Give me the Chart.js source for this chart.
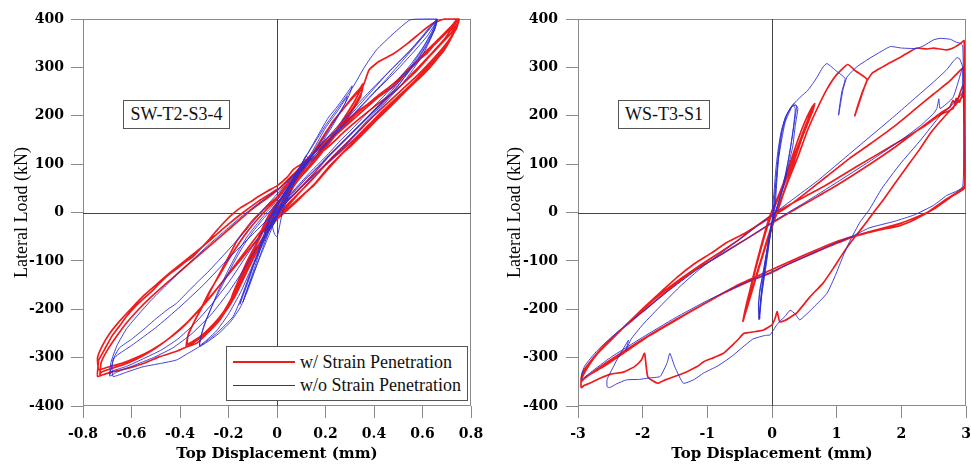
<!DOCTYPE html>
<html>
<head>
<meta charset="utf-8">
<script src="https://cdn.jsdelivr.net/npm/chart.js@4.4.1/dist/chart.umd.min.js"></script>
<style>
  html, body { margin: 0; padding: 0; background: #fff; }
  #wrap { position: relative; width: 971px; height: 468px; overflow: hidden;
          font-family: "Liberation Serif", "Times New Roman", serif; }
  canvas { position: absolute; top: 0; }
  .tag { position: absolute; box-sizing: border-box; border: 1px solid #555; background: #fff;
         font-size: 18px; line-height: 26px; text-align: center; color: #111; z-index: 2; }
  .legend { position: absolute; box-sizing: border-box; border: 1px solid #555; background: #fff; z-index: 2; }
  .legend .row { position: absolute; left: 0; height: 22px; width: 100%; }
  .legend .swatch { position: absolute; left: 6px; width: 62px; top: 50%; }
  .legend .txt { position: absolute; left: 73px; top: 0; font-size: 18px; line-height: 22px; color: #111; white-space: nowrap; }
</style>
</head>
<body>
<div id="wrap">
  <canvas id="left" width="490" height="468" style="left:0px"></canvas>
  <canvas id="right" width="481" height="468" style="left:490px"></canvas>
  <div class="tag" style="left:123px;top:100px;width:107px;height:29px;">SW-T2-S3-4</div>
  <div class="tag" style="left:618px;top:100px;width:92px;height:29px;">WS-T3-S1</div>
  <div class="legend" style="left:226px;top:346px;width:242px;height:55px;">
    <div class="row" style="top:4px;"><div class="swatch" style="border-top:2px solid #ee1c1c;margin-top:-1px;"></div><div class="txt">w/ Strain Penetration</div></div>
    <div class="row" style="top:27px;"><div class="swatch" style="border-top:1px solid #2b2bd6;"></div><div class="txt">w/o Strain Penetration</div></div>
  </div>
</div>
<script>
// Axis ticks
const swXTicks = [-0.8, -0.6, -0.4, -0.2, 0, 0.2, 0.4, 0.6, 0.8];
const wsXTicks = [-3, -2, -1, 0, 1, 2, 3];
const loadTicks = [-400, -300, -200, -100, 0, 100, 200, 300, 400];

// SW-T2-S3-4, with strain penetration: [displacement mm, load kN]
const swWithSP = [
  [0,0],[0.03,22],[0.06,50],[0.1,82],[0.13,104],[0.14,112],[0.11,92],[0.07,62],[0.03,35],[0,14],[-0.02,-6],[-0.04,-28],[-0.05,-42],[-0.03,-30],[0,-8],[0.03,18],[0.07,55],[0.11,88],[0.14,110],[0.12,98],[0.08,70],[0.04,42],[0,18],[-0.03,-10],[-0.05,-38],[-0.02,-22],
  [0.02,10],[0.06,50],[0.1,90],[0.14,118],[0.19,155],[0.23,188],[0.27,212],[0.31,238],[0.34,255],[0.355,266],[0.35,250],[0.32,222],[0.28,192],[0.24,165],[0.2,138],[0.16,112],[0.12,88],[0.08,62],[0.04,40],[0,20],[-0.03,-2],[-0.06,-32],[-0.09,-70],[-0.12,-108],[-0.15,-145],[-0.17,-168],[-0.195,-190],[-0.185,-172],[-0.16,-142],[-0.13,-108],[-0.1,-78],[-0.07,-50],[-0.04,-24],[-0.01,0],[0.03,28],
  [0.08,62],[0.13,95],[0.18,128],[0.23,160],[0.28,198],[0.32,230],[0.35,258],[0.345,240],[0.31,210],[0.26,172],[0.21,140],[0.16,108],[0.11,80],[0.06,52],[0.02,28],[-0.02,2],[-0.05,-28],[-0.08,-62],[-0.11,-100],[-0.14,-138],[-0.17,-170],[-0.19,-186],[-0.18,-168],[-0.15,-135],[-0.12,-100],[-0.08,-62],[-0.05,-32],[-0.02,-6],[0.02,22],
  [0.06,55],[0.1,90],[0.15,125],[0.2,165],[0.25,200],[0.3,230],[0.355,262],[0.38,295],[0.42,312],[0.48,328],[0.54,350],[0.6,375],[0.64,390],[0.69,400],[0.75,400],[0.745,388],[0.72,362],[0.69,336],[0.65,312],[0.6,285],[0.55,260],[0.5,235],[0.45,210],[0.41,191],[0.36,165],[0.31,140],[0.27,122],[0.22,95],[0.18,72],[0.15,55],[0.11,38],[0.07,20],[0.03,2],[0,-12],[-0.03,-32],[-0.06,-58],[-0.1,-96],[-0.13,-128],[-0.16,-158],[-0.19,-188],[-0.22,-210],[-0.26,-232],[-0.3,-252],[-0.34,-268],[-0.374,-277],[-0.367,-255],[-0.35,-235],[-0.33,-215],[-0.3,-188],[-0.27,-158],[-0.236,-126],[-0.2,-92],[-0.167,-60],[-0.13,-35],[-0.1,-16],[-0.06,4],[-0.03,18],[0,32],[0.04,58],[0.08,85],
  [0.12,108],[0.16,130],[0.2,150],[0.27,182],[0.34,212],[0.41,236],[0.48,260],[0.55,298],[0.62,336],[0.68,365],[0.73,391],[0.75,400],[0.74,380],[0.7,350],[0.66,322],[0.61,295],[0.56,268],[0.5,240],[0.44,212],[0.38,182],[0.32,152],[0.26,125],[0.2,98],[0.15,72],[0.1,45],[0.06,22],[0.02,0],[-0.02,-25],[-0.06,-55],[-0.1,-90],[-0.14,-130],[-0.18,-170],[-0.22,-205],[-0.27,-235],[-0.32,-258],[-0.37,-272],[-0.365,-250],[-0.34,-225],[-0.31,-195],[-0.28,-165],[-0.24,-132],[-0.2,-98],[-0.16,-66],[-0.12,-38],[-0.08,-14],[-0.04,8],[0,28],[0.05,60],[0.1,90],
  [0.15,112],[0.21,135],[0.28,168],[0.35,198],[0.42,226],[0.49,252],[0.56,288],[0.63,325],[0.69,358],[0.74,395],
  [0.75,398],[0.7,345],[0.64,305],[0.58,274],[0.52,248],[0.46,220],[0.4,188],[0.34,158],[0.28,128],[0.22,98],[0.16,62],[0.12,42],[0.08,22],[0.04,4],[0,-14],[-0.04,-42],[-0.08,-78],[-0.12,-118],[-0.16,-160],[-0.19,-186],[-0.236,-222],[-0.28,-246],[-0.33,-270],[-0.374,-278],[-0.42,-288],[-0.484,-298],[-0.54,-310],[-0.594,-319],[-0.64,-325],[-0.676,-329],[-0.71,-334],[-0.74,-339],[-0.738,-318],[-0.735,-305],[-0.71,-282],[-0.68,-255],[-0.65,-235],[-0.621,-215],[-0.58,-192],[-0.55,-178],[-0.51,-160],[-0.484,-146],[-0.44,-126],[-0.41,-115],[-0.38,-103],[-0.346,-91],[-0.31,-72],[-0.28,-56],[-0.25,-38],[-0.208,-15],[-0.18,-2],[-0.15,10],[-0.11,22],[-0.08,32],[-0.04,44],[0,55],[0.04,72],[0.07,90],[0.1,100],
  [0.14,118],[0.2,140],[0.26,168],[0.32,195],[0.38,222],[0.44,248],[0.5,275],[0.56,305],[0.62,330],[0.67,360],[0.72,385],[0.75,400],[0.745,390],[0.72,364],[0.68,338],[0.63,310],[0.58,284],[0.52,256],[0.46,228],[0.4,200],[0.34,170],[0.28,140],[0.22,110],[0.17,82],[0.12,55],[0.07,30],[0.02,5],[-0.03,-22],[-0.08,-55],[-0.14,-92],[-0.2,-128],[-0.26,-165],[-0.32,-200],[-0.38,-232],[-0.44,-258],[-0.5,-280],[-0.56,-298],[-0.62,-312],[-0.68,-322],[-0.725,-330],[-0.73,-335],[-0.725,-310],[-0.7,-285],[-0.66,-255],[-0.62,-228],[-0.57,-200],[-0.52,-175],[-0.46,-148],[-0.4,-122],[-0.34,-96],[-0.28,-70],[-0.22,-44],[-0.16,-18],[-0.1,8],[-0.04,30],[0,45],[0.05,70],[0.1,95],
  [0.15,122],[0.2,145],[0.26,172],[0.33,205],[0.4,235],[0.47,262],[0.54,292],[0.6,322],[0.66,352],[0.71,378],[0.74,398],[0.72,372],[0.67,345],[0.62,318],[0.57,290],[0.51,262],[0.45,235],[0.39,205],[0.33,175],[0.27,145],[0.21,115],[0.16,85],[0.11,58],[0.06,32],[0.01,8],[-0.05,-28],[-0.1,-60],[-0.16,-100],[-0.22,-140],[-0.28,-178],[-0.34,-212],[-0.4,-242],[-0.46,-266],[-0.52,-285],[-0.58,-300],[-0.64,-312],[-0.7,-320],[-0.735,-325],[-0.74,-300],[-0.72,-275],[-0.69,-250],[-0.65,-225],[-0.6,-198],[-0.55,-172],[-0.5,-150],[-0.44,-124],[-0.38,-100],[-0.32,-76],[-0.26,-50],[-0.2,-24],[-0.14,0],[-0.08,22],[-0.03,38],[0,48]
];

// SW-T2-S3-4, without strain penetration
const swWithoutSP = [
  [0,0],[0.02,20],[0.05,50],[0.08,75],[0.11,95],[0.13,108],[0.12,118],[0.1,98],[0.07,72],[0.04,48],[0.01,22],[-0.01,0],[-0.02,-25],[-0.01,-45],[0,-50],[0.01,-30],[0.02,-5],[0.04,25],[0.07,60],[0.1,88],[0.13,112],[0.15,120],[0.12,100],[0.08,78],[0.05,55],[0.02,32],[0,10],[-0.02,-15],[-0.03,-35],[-0.01,-20],[0.01,5],[0.03,35],[0.06,65],[0.09,90],[0.12,110],[0.1,92],[0.06,62],[0.03,40],[0,18],[-0.02,-5],
  [0.02,20],[0.05,50],[0.09,90],[0.13,125],[0.17,160],[0.21,195],[0.25,220],[0.29,248],[0.31,262],[0.3,245],[0.27,215],[0.23,180],[0.19,148],[0.15,118],[0.11,92],[0.07,65],[0.03,40],[0,18],[-0.03,-10],[-0.06,-55],[-0.09,-100],[-0.12,-145],[-0.14,-172],[-0.153,-190],[-0.145,-175],[-0.125,-145],[-0.1,-112],[-0.07,-78],[-0.04,-45],[-0.01,-15],[0.02,12],
  [0.06,50],[0.1,88],[0.15,130],[0.2,175],[0.25,210],[0.29,240],[0.28,225],[0.24,192],[0.2,160],[0.16,130],[0.12,100],[0.08,72],[0.04,45],[0,15],[-0.03,-18],[-0.06,-62],[-0.09,-110],[-0.12,-155],[-0.14,-185],[-0.13,-168],[-0.1,-130],[-0.07,-92],[-0.04,-55],[-0.01,-20],[0.02,10],
  [0.06,60],[0.1,100],[0.15,140],[0.2,180],[0.25,215],[0.314,260],[0.36,300],[0.41,336],[0.48,370],[0.548,398],[0.6,400],[0.66,400],[0.655,385],[0.63,355],[0.6,325],[0.56,295],[0.52,268],[0.47,240],[0.42,212],[0.37,185],[0.32,158],[0.27,132],[0.22,108],[0.17,85],[0.12,62],[0.07,38],[0.03,15],[0,-5],[-0.03,-35],[-0.06,-75],[-0.09,-118],[-0.12,-160],[-0.15,-195],[-0.19,-225],[-0.24,-250],[-0.28,-265],[-0.319,-277],[-0.315,-258],[-0.3,-232],[-0.27,-195],[-0.24,-160],[-0.2,-118],[-0.16,-80],[-0.12,-48],[-0.08,-22],[-0.04,2],[0,25],[0.04,50],[0.08,78],
  [0.13,110],[0.2,150],[0.27,190],[0.34,228],[0.41,265],[0.48,300],[0.548,335],[0.6,365],[0.64,390],[0.66,400],[0.65,380],[0.62,350],[0.58,318],[0.54,290],[0.5,262],[0.45,232],[0.4,205],[0.35,178],[0.3,150],[0.25,125],[0.2,100],[0.15,76],[0.1,52],[0.05,28],[0.01,5],[-0.03,-28],[-0.07,-72],[-0.11,-120],[-0.15,-165],[-0.2,-210],[-0.25,-245],[-0.3,-268],[-0.32,-275],[-0.31,-250],[-0.29,-220],[-0.26,-185],[-0.22,-145],[-0.18,-105],[-0.14,-70],[-0.1,-40],[-0.06,-15],[-0.02,8],[0.02,30],[0.06,55],
  [0.1,85],[0.15,110],[0.22,150],[0.3,195],[0.38,238],[0.45,275],[0.52,315],[0.58,350],[0.62,375],[0.658,398],[0.65,378],[0.62,348],[0.58,315],[0.53,282],[0.48,252],[0.42,220],[0.36,190],[0.3,160],[0.24,130],[0.18,100],[0.12,70],[0.07,42],[0.02,12],[-0.02,-20],[-0.06,-65],[-0.1,-112],[-0.13,-155],[-0.181,-215],[-0.25,-250],[-0.319,-277],[-0.37,-292],[-0.415,-305],[-0.48,-312],[-0.553,-319],[-0.62,-330],[-0.676,-339],[-0.68,-320],[-0.677,-305],[-0.65,-280],[-0.6,-262],[-0.553,-243],[-0.5,-220],[-0.45,-200],[-0.415,-188],[-0.36,-160],[-0.32,-140],[-0.277,-119],[-0.22,-88],[-0.16,-55],[-0.1,-20],[-0.05,10],[0,38],[0.05,68],[0.1,95],
  [0.15,115],[0.22,155],[0.3,200],[0.38,245],[0.46,290],[0.54,330],[0.6,362],[0.65,392],[0.66,400],[0.64,375],[0.6,340],[0.55,305],[0.5,275],[0.44,240],[0.38,210],[0.32,178],[0.26,148],[0.2,115],[0.14,85],[0.08,52],[0.03,22],[-0.02,-12],[-0.08,-55],[-0.14,-100],[-0.2,-145],[-0.27,-190],[-0.34,-230],[-0.41,-262],[-0.48,-285],[-0.55,-302],[-0.62,-318],[-0.68,-328],[-0.69,-335],[-0.685,-310],[-0.66,-275],[-0.62,-240],[-0.57,-210],[-0.52,-182],[-0.46,-152],[-0.4,-122],[-0.34,-94],[-0.28,-66],[-0.22,-40],[-0.16,-14],[-0.1,10],[-0.04,32],[0,46],[0.05,68],
  [0.1,90],[0.17,125],[0.25,168],[0.33,210],[0.41,252],[0.49,292],[0.56,330],[0.62,365],[0.655,392],[0.64,372],[0.6,338],[0.55,300],[0.49,262],[0.43,228],[0.37,195],[0.31,165],[0.25,135],[0.19,105],[0.13,75],[0.07,45],[0.02,15],[-0.03,-25],[-0.08,-70],[-0.14,-120],[-0.2,-165],[-0.27,-210],[-0.35,-250],[-0.43,-280],[-0.51,-300],[-0.59,-316],[-0.66,-330],[-0.69,-338],[-0.67,-300],[-0.6,-275],[-0.5,-238],[-0.4,-195],[-0.3,-148],[-0.2,-95],[-0.1,-45],[0,5]
];

// WS-T3-S1, with strain penetration
const wsWithSP = [
  [0,0],[0.1,30],[0.2,70],[0.3,110],[0.4,150],[0.5,185],[0.58,208],[0.64,222],[0.62,212],[0.52,180],[0.38,130],[0.22,75],[0.08,25],[-0.05,-15],[-0.15,-60],[-0.25,-110],[-0.34,-160],[-0.4,-195],[-0.44,-222],[-0.42,-210],[-0.32,-165],[-0.2,-110],[-0.05,-50],[0.08,0],[0.2,48],[0.32,98],[0.44,145],[0.54,185],[0.62,215],[0.66,225],[0.63,210],[0.53,178],[0.4,135],[0.25,85],[0.1,35],[-0.04,-10],[-0.14,-55],[-0.24,-105],[-0.33,-155],[-0.4,-192],[-0.45,-225],[-0.43,-215],[-0.34,-175],[-0.22,-120],[-0.08,-58],[0.05,-5],[0.17,38],[0.3,88],[0.42,138],[0.52,178],[0.6,208],[0.64,220],[0.6,200],[0.48,160],[0.34,112],[0.2,62],[0.06,18],[-0.06,-25],[-0.16,-70],[-0.26,-120],[-0.35,-170],[-0.42,-210],[-0.44,-220],[-0.38,-195],[-0.27,-145],[-0.14,-88],[0,-28],[0.12,18],
  [0.25,65],[0.4,115],[0.55,170],[0.7,215],[0.85,255],[1.0,285],[1.17,306],[1.3,292],[1.47,275],[1.4,250],[1.33,222],[1.28,200],[1.3,208],[1.38,240],[1.46,270],[1.55,288],[1.7,300],[1.83,310],[2.0,322],[2.15,334],[2.24,340],[2.4,338],[2.5,340],[2.6,338],[2.7,336],[2.8,340],[2.9,348],[2.97,355],[2.975,300],[2.975,245],
  [2.9,232],[2.76,212],[2.6,188],[2.45,164],[2.28,130],[2.09,95],[1.9,60],[1.72,26],[1.56,-2],[1.41,-29],[1.25,-56],[1.1,-84],[0.95,-115],[0.79,-146],[0.69,-160],[0.59,-174],[0.48,-192],[0.38,-208],[0.3,-215],[0.22,-222],[0.12,-226],[0.08,-205],[0.05,-218],[0,-232],[-0.13,-243],[-0.25,-246],[-0.35,-248],[-0.44,-250],[-0.52,-262],[-0.62,-275],[-0.75,-291],[-0.9,-300],[-1.05,-308],[-1.15,-318],[-1.27,-326],[-1.4,-334],[-1.53,-340],[-1.65,-346],[-1.77,-353],[-1.92,-340],[-1.97,-291],[-2.02,-305],[-2.12,-318],[-2.3,-330],[-2.49,-334],[-2.65,-342],[-2.8,-352],[-2.9,-357],[-2.95,-362],
  [-2.95,-346],[-2.85,-320],[-2.7,-292],[-2.49,-264],[-2.2,-225],[-1.97,-195],[-1.7,-162],[-1.46,-133],[-1.2,-106],[-0.94,-84],[-0.7,-62],[-0.42,-43],[-0.2,-25],[0,-8],[0.2,8],[0.5,38],[0.85,75],[1.2,112],[1.5,140],[1.88,177],[2.2,212],[2.5,245],[2.75,272],[2.91,294],[2.975,300],[2.975,200],[2.975,100],[2.975,50],
  [2.8,35],[2.5,7],[2.2,-15],[1.98,-27],[1.6,-38],[1.26,-50],[0.85,-72],[0.43,-96],[0.2,-110],[0,-124],[-0.4,-145],[-0.75,-167],[-1.1,-193],[-1.48,-222],[-1.9,-255],[-2.3,-291],[-2.6,-318],[-2.87,-339],[-2.95,-350],
  [-2.93,-335],[-2.82,-310],[-2.6,-278],[-2.3,-238],[-2.0,-200],[-1.7,-166],[-1.4,-136],[-1.1,-108],[-0.8,-82],[-0.5,-55],[-0.24,-28],[0,-5],[0.3,18],[0.79,53],[1.31,95],[1.83,136],[2.34,177],[2.6,202],[2.8,215],[2.85,236],[2.9,228],[2.96,250],[2.975,200],[2.975,55],
  [2.7,28],[2.4,0],[2.0,-22],[1.5,-40],[1.0,-60],[0.5,-88],[0,-118],[-0.5,-148],[-1.0,-185],[-1.5,-222],[-2.0,-262],[-2.5,-305],[-2.8,-333],[-2.95,-348],
  [-2.93,-330],[-2.7,-290],[-2.4,-250],[-2.0,-205],[-1.6,-160],[-1.2,-120],[-0.8,-88],[-0.4,-55],[0,-22],[0.4,10],[0.9,48],[1.4,90],[1.9,135],[2.3,175],[2.6,205],[2.75,218],[2.8,232],[2.84,222],[2.95,262],[2.975,240]
];

// WS-T3-S1, without strain penetration
const wsWithoutSP = [
  [0,0],[0.03,40],[0.06,90],[0.1,135],[0.15,172],[0.22,200],[0.3,218],[0.37,222],[0.4,215],[0.36,180],[0.32,136],[0.25,95],[0.18,53],[0.1,20],[0.04,-5],[-0.02,-40],[-0.08,-90],[-0.14,-140],[-0.18,-185],[-0.2,-222],[-0.21,-200],[-0.19,-160],[-0.13,-120],[-0.08,-80],[-0.03,-40],[0.02,0],[0.05,50],[0.09,110],[0.13,155],[0.2,195],[0.28,215],[0.34,225],[0.38,220],[0.35,190],[0.3,145],[0.24,100],[0.16,50],[0.08,12],[0.02,-15],[-0.04,-55],[-0.1,-110],[-0.15,-160],[-0.18,-200],[-0.19,-220],[-0.21,-190],[-0.17,-150],[-0.12,-110],[-0.06,-65],[0,-20],[0.04,20],[0.07,70],[0.11,125],[0.16,170],[0.24,205],[0.32,222],[0.36,215],[0.33,175],[0.27,120],[0.2,70],[0.12,28],[0.05,0],[-0.02,-30],[-0.09,-90],[-0.15,-150],[-0.19,-205],[-0.2,-218],[-0.16,-170],[-0.1,-118],[-0.05,-70],[0,-25],[0.05,15],
  [0.1,110],[0.2,185],[0.32,222],[0.45,240],[0.55,252],[0.67,274],[0.79,301],[0.85,308],[1.0,292],[1.13,277],[1.08,250],[1.04,215],[1.03,201],[1.06,225],[1.1,255],[1.16,280],[1.31,301],[1.5,318],[1.65,330],[1.83,343],[2.0,340],[2.24,339],[2.35,345],[2.5,357],[2.6,360],[2.76,358],[2.85,352],[2.91,350],[2.95,345],[2.95,250],
  [2.8,225],[2.6,200],[2.3,150],[1.98,100],[1.7,50],[1.5,5],[1.36,-20],[1.2,-60],[1.1,-90],[0.98,-130],[0.85,-167],[0.65,-195],[0.43,-222],[0.36,-210],[0.28,-202],[0.2,-215],[0.12,-225],[0.07,-233],[-0.03,-253],[-0.1,-254],[-0.19,-257],[-0.3,-262],[-0.45,-278],[-0.6,-295],[-0.7,-305],[-0.85,-318],[-1.06,-332],[-1.2,-345],[-1.37,-353],[-1.5,-320],[-1.58,-291],[-1.62,-310],[-1.73,-339],[-1.9,-342],[-2.05,-345],[-2.25,-346],[-2.4,-354],[-2.51,-362],[-2.55,-360],
  [-2.55,-345],[-2.45,-318],[-2.4,-305],[-2.22,-264],[-2.26,-285],[-2.18,-262],[-2.0,-232],[-1.7,-190],[-1.4,-150],[-1.1,-115],[-0.8,-85],[-0.5,-55],[-0.2,-25],[0,-5],[0.3,25],[0.7,65],[1.1,110],[1.5,155],[1.9,200],[2.2,235],[2.5,270],[2.7,295],[2.8,312],[2.86,320],[2.9,318],[2.95,300],[2.95,53],
  [2.7,35],[2.5,15],[2.2,-5],[1.9,-18],[1.5,-32],[1.26,-48],[0.9,-68],[0.5,-92],[0,-122],[-0.5,-150],[-1.0,-182],[-1.5,-218],[-2.0,-258],[-2.5,-300],[-2.8,-330],[-2.95,-345],
  [-2.9,-318],[-2.7,-285],[-2.4,-248],[-2.0,-205],[-1.6,-162],[-1.2,-122],[-0.8,-88],[-0.4,-55],[0,-20],[0.5,20],[1.0,62],[1.5,105],[2.0,150],[2.3,180],[2.5,205],[2.55,215],[2.58,235],[2.6,215],[2.8,238],[2.95,300],[2.95,260]
];

const RED = '#ee1c1c';
const BLUE = '#2b2bd6';
const FRAME = '#8a8a8a';
const ZERO = '#444444';
const SERIF = '"Liberation Serif", "Times New Roman", serif';
const BOLD_SERIF = '"DejaVu Serif", "Liberation Serif", serif';

// Draws the plot frame and the two zero lines under the curves
const framePlugin = {
  id: 'frame',
  beforeDatasetsDraw(chart) {
    const { ctx, chartArea: a, scales } = chart;
    ctx.save();
    ctx.lineWidth = 1;
    ctx.strokeStyle = FRAME;
    ctx.strokeRect(a.left + 0.5, a.top + 0.5, a.right - a.left - 1, a.bottom - a.top - 1);
    const x0 = Math.round(scales.x.getPixelForValue(0)) + 0.5;
    const y0 = Math.round(scales.y.getPixelForValue(0)) + 0.5;
    ctx.strokeStyle = ZERO;
    ctx.beginPath();
    ctx.moveTo(x0, a.top); ctx.lineTo(x0, a.bottom);
    ctx.moveTo(a.left, y0); ctx.lineTo(a.right, y0);
    ctx.stroke();
    ctx.restore();
  }
};

function toPoints(pairs) { return pairs.map(p => ({ x: p[0], y: p[1] })); }

function makePanel(id, opts) {
  const tickFont = { family: BOLD_SERIF, size: 14, weight: 'bold' };
  return new Chart(document.getElementById(id), {
    type: 'scatter',
    data: {
      datasets: [
        { label: 'w/ Strain Penetration', data: toPoints(opts.red), showLine: true, borderColor: RED,
          borderWidth: 1.7, pointRadius: 0, tension: 0.15, order: 2, clip: 3 },
        { label: 'w/o Strain Penetration', data: toPoints(opts.blue), showLine: true, borderColor: BLUE,
          borderWidth: 0.9, pointRadius: 0, tension: 0.15, order: 1, clip: 3 }
      ]
    },
    options: {
      responsive: false,
      animation: false,
      devicePixelRatio: 1,
      layout: { padding: { left: 0, right: opts.padRight, top: 19, bottom: 0 } },
      plugins: { legend: { display: false }, tooltip: { enabled: false } },
      scales: {
        x: {
          type: 'linear', position: 'bottom', min: opts.xTicks[0], max: opts.xTicks[opts.xTicks.length - 1],
          afterBuildTicks: s => { s.ticks = opts.xTicks.map(v => ({ value: v })); },
          afterFit: s => { s.height = 62; s.paddingLeft = 0; s.paddingRight = 0; },
          grid: { display: true, drawOnChartArea: false, drawTicks: true, tickLength: 12, color: FRAME },
          border: { display: false },
          ticks: { font: tickFont, color: '#000', padding: 8, maxRotation: 0, autoSkip: false,
                   callback: v => String(v) },
          title: { display: true, text: 'Top Displacement (mm)', color: '#000', padding: { top: 0, bottom: 5 },
                   font: { family: BOLD_SERIF, size: 15, weight: 'bold' } }
        },
        y: {
          type: 'linear', position: 'left', min: -400, max: 400,
          afterBuildTicks: s => { s.ticks = loadTicks.map(v => ({ value: v })); },
          afterFit: s => { s.width = opts.yWidth; s.paddingTop = 0; s.paddingBottom = 0; },
          grid: { display: true, drawOnChartArea: false, drawTicks: true, tickLength: 12, color: FRAME },
          border: { display: false },
          ticks: { font: tickFont, color: '#000', padding: opts.yPad, autoSkip: false, callback: v => String(v) },
          title: { display: true, text: 'Lateral Load (kN)', color: '#000', padding: { top: opts.titlePad, bottom: 0 },
                   font: { family: SERIF, size: 18, weight: 'normal' } }
        }
      }
    },
    plugins: [framePlugin]
  });
}

function drawAll() {
  makePanel('left', { red: swWithSP, blue: swWithoutSP, xTicks: swXTicks, padRight: 19, yWidth: 83, yPad: 7, titlePad: 11 });
  makePanel('right', { red: wsWithSP, blue: wsWithoutSP, xTicks: wsXTicks, padRight: 5, yWidth: 88, yPad: 8, titlePad: 14 });
}

// Make sure the serif faces are ready before the canvases are painted
Promise.all([
  document.fonts.load('bold 14px "DejaVu Serif"'),
  document.fonts.load('18px "Liberation Serif"')
]).then(drawAll, drawAll);
</script>
</body>
</html>
